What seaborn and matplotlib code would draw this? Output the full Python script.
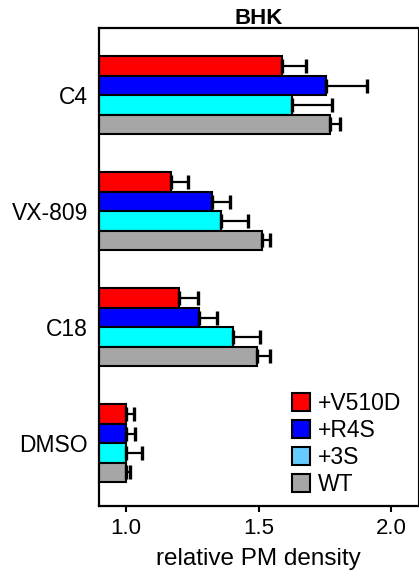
import numpy as np
import pandas as pd
import matplotlib
matplotlib.use("Agg")
import matplotlib.pyplot as plt
import seaborn as sns
from matplotlib.patches import Patch

# ---- data ----
conditions = ["C4", "VX-809", "C18", "DMSO"]
series = ["+V510D", "+R4S", "+3S", "WT"]
v510d = [1.59, 1.17, 1.20, 1.00]
r4s = [1.755, 1.325, 1.275, 1.00]
s3 = [1.625, 1.36, 1.405, 1.00]
wt = [1.77, 1.515, 1.495, 1.00]
err_v510d = [0.09, 0.064, 0.073, 0.032]
err_r4s = [0.153, 0.068, 0.069, 0.035]
err_s3 = [0.15, 0.10, 0.10, 0.063]
err_wt = [0.035, 0.029, 0.048, 0.017]

bar_colors = ["#ff0000", "#0000ff", "#00ffff", "#a6a6a6"]
legend_colors = ["#ff0000", "#0000ff", "#66ccff", "#a6a6a6"]

values = [v510d, r4s, s3, wt]
errors = [err_v510d, err_r4s, err_s3, err_wt]

rows = []
for s, vals in zip(series, values):
    for c, v in zip(conditions, vals):
        rows.append({"condition": c, "series": s, "value": v})
df = pd.DataFrame(rows)

sns.set_style("white")
plt.rcParams["font.family"] = ["Liberation Sans", "DejaVu Sans"]
plt.rcParams["text.color"] = "black"
plt.rcParams["axes.labelcolor"] = "black"
plt.rcParams["xtick.color"] = "black"
plt.rcParams["ytick.color"] = "black"

fig = plt.figure(figsize=(4.19, 5.79), dpi=100)
ax = fig.add_axes([0.2363, 0.1261, 0.7613, 0.8255])

sns.barplot(data=df, y="condition", x="value", hue="series", orient="h",
            order=conditions, hue_order=series, palette=bar_colors,
            edgecolor="black", linewidth=1.5, width=0.67, errorbar=None,
            saturation=1, legend=False, ax=ax)

# one-sided error bars, positioned from the drawn bars
for cont, vals, errs in zip(ax.containers, values, errors):
    ys = [p.get_y() + p.get_height() / 2 for p in cont.patches]
    ax.errorbar(vals, ys, xerr=[np.zeros(len(errs)), errs], fmt="none",
                ecolor="black", elinewidth=1.6, capsize=5, capthick=2.4,
                zorder=1)

ax.set_xlim(0.9, 2.1)
ax.set_ylim(3.54, -0.58)
ax.set_xticks([1.0, 1.5, 2.0])
ax.set_xticklabels(["1.0", "1.5", "2.0"])
ax.tick_params(axis="x", direction="out", length=4, width=1.5,
               labelsize=16, pad=5, bottom=True, colors="black")
ax.tick_params(axis="y", length=0, labelsize=16.5, pad=8, colors="black")
ax.set_ylabel("")
ax.set_xlabel("relative PM density", fontsize=17.5, labelpad=6, color="black")
ax.set_title("BHK", fontsize=16, fontweight="bold", pad=3, color="black")

for side in ["left", "bottom", "top"]:
    ax.spines[side].set_visible(True)
    ax.spines[side].set_linewidth(1.6)
    ax.spines[side].set_color("black")
ax.spines["right"].set_visible(True)
ax.spines["right"].set_linewidth(0.8)
ax.spines["right"].set_color("black")

handles = [Patch(facecolor=c, edgecolor="black", linewidth=1.5)
           for c in legend_colors]
leg = ax.legend(handles, series, loc="upper left", bbox_to_anchor=(0.604, 0.239),
                frameon=False, fontsize=16.5, handlelength=0.8, handleheight=0.8,
                handletextpad=0.35, labelspacing=0.18, borderpad=0,
                borderaxespad=0)
for t in leg.get_texts():
    t.set_color("black")

fig.savefig("out.png", dpi=100)
